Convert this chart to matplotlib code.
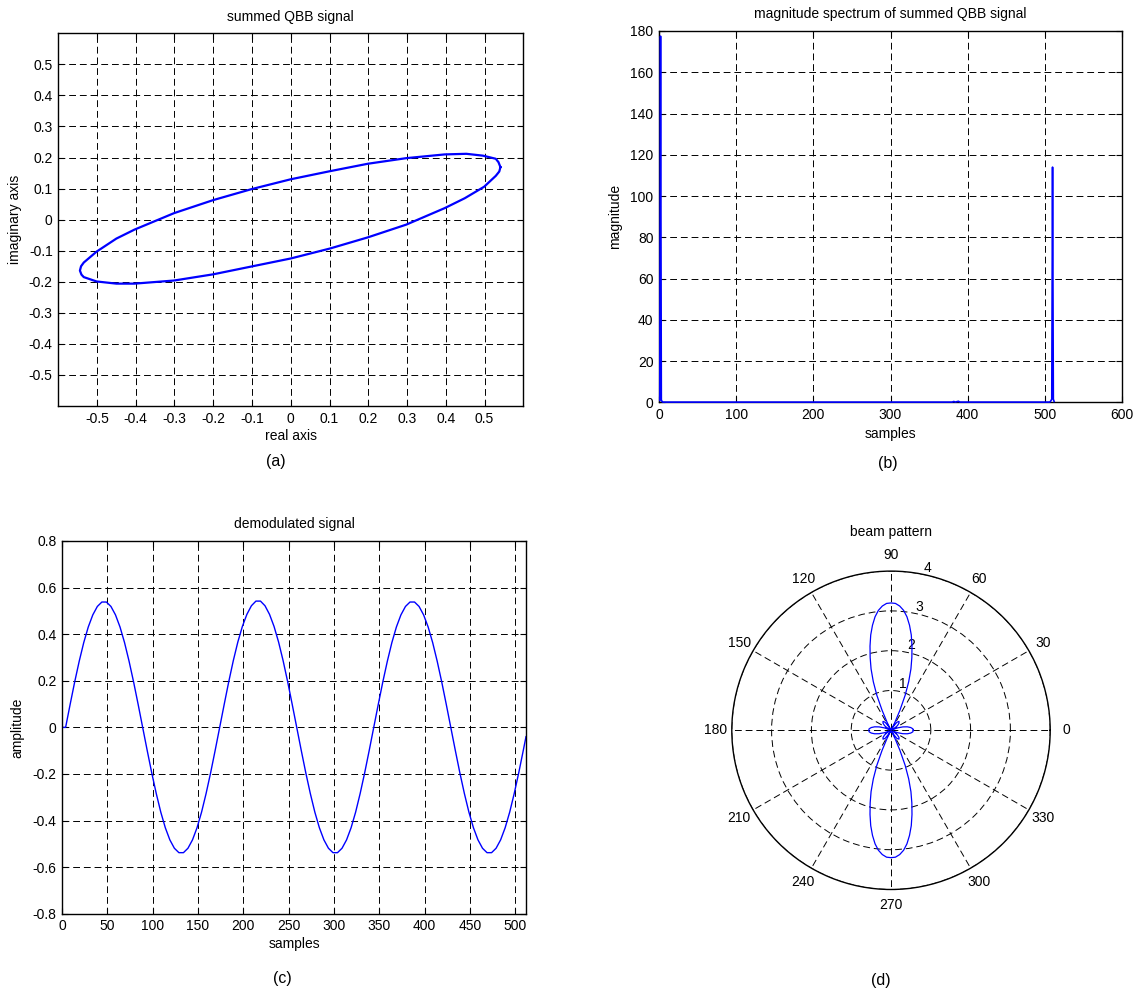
import matplotlib
matplotlib.use("Agg")
import matplotlib.pyplot as plt
import numpy as np

plt.rcParams['font.family'] = ['Liberation Sans', 'DejaVu Sans']
plt.rcParams['font.size'] = 10
plt.rcParams['axes.unicode_minus'] = False

# (a) summed QBB signal, points read along the ellipse
qbb_re = [0.541, 0.536, 0.529, 0.496, 0.453, 0.397, 0.298, 0.199, 0.101, 0.000,
          -0.102, -0.200, -0.301, -0.403, -0.450, -0.501, -0.534, -0.541, -0.544, -0.540,
          -0.534, -0.501, -0.450, -0.403, -0.301, -0.200, -0.102, 0.000, 0.101, 0.199,
          0.298, 0.397, 0.449, 0.499, 0.529, 0.538, 0.541]
qbb_im = [0.169, 0.185, 0.196, 0.206, 0.212, 0.210, 0.198, 0.180, 0.156, 0.130,
          0.098, 0.063, 0.021, -0.032, -0.061, -0.103, -0.138, -0.150, -0.164, -0.177,
          -0.185, -0.199, -0.206, -0.206, -0.196, -0.176, -0.151, -0.125, -0.093, -0.057,
          -0.016, 0.037, 0.069, 0.106, 0.141, 0.155, 0.169]
qbb_ticks = [-0.5, -0.4, -0.3, -0.2, -0.1, 0, 0.1, 0.2, 0.3, 0.4, 0.5]
qbb_ticklabels = ['-0.5', '-0.4', '-0.3', '-0.2', '-0.1', '0', '0.1', '0.2', '0.3', '0.4', '0.5']

# (b) magnitude spectrum
spec_n = [1, 2, 3, 4, 5, 380, 382, 384, 386, 388, 390, 506, 507, 508, 509, 510, 511, 512]
spec_mag = [0.9, 177.5, 1.2, 0.3, 0.1, 0.1, 0.4, 0.1, 0.3, 0.5, 0.1, 0.1, 0.3, 0.8, 1.6, 114.0, 1.5, 0.4]

# (c) demodulated signal
demod_n = [0] + list(range(4, 510, 5)) + [512]
demod_amp = [
    0.000,
    0.000, 0.099, 0.195, 0.284, 0.364, 0.431, 0.483, 0.519, 0.538, 0.538, 0.519, 0.483, 0.431, 0.364, 0.284, 0.195, 0.099,
    0.000, -0.099, -0.195, -0.284, -0.364, -0.431, -0.483, -0.519, -0.538, -0.538, -0.519, -0.483, -0.431, -0.364, -0.284, -0.195, -0.099,
    0.000, 0.099, 0.196, 0.286, 0.366, 0.433, 0.485, 0.522, 0.542, 0.542, 0.522, 0.485, 0.433, 0.366, 0.286, 0.196, 0.099,
    0.000, -0.099, -0.195, -0.284, -0.364, -0.431, -0.483, -0.519, -0.538, -0.538, -0.519, -0.483, -0.431, -0.364, -0.284, -0.195, -0.099,
    0.000, 0.099, 0.195, 0.284, 0.364, 0.431, 0.483, 0.519, 0.538, 0.538, 0.519, 0.483, 0.431, 0.364, 0.284, 0.195, 0.099,
    0.000, -0.099, -0.195, -0.284, -0.364, -0.431, -0.483, -0.519, -0.538, -0.538, -0.519, -0.483, -0.431, -0.364, -0.284, -0.195, -0.099,
    -0.040]

# (d) beam pattern, first quadrant (pattern is symmetric about both axes)
bp_theta_q = [0, 4, 8, 12, 16, 20, 24, 30, 36, 42, 48, 54, 58, 62, 64, 66, 68, 70,
              72, 74, 76, 78, 80, 82, 84, 86, 88, 90]
bp_r_q = [0.56, 0.55, 0.50, 0.42, 0.31, 0.18, 0.05, 0.10, 0.20, 0.27, 0.30, 0.25, 0.12, 0.02,
          0.23, 0.55, 0.95, 1.30, 1.62, 1.90, 2.18, 2.45, 2.68, 2.88, 3.03, 3.13, 3.19, 3.20]
bp_theta = (bp_theta_q + [180 - t for t in bp_theta_q[::-1]]
            + [180 + t for t in bp_theta_q] + [360 - t for t in bp_theta_q[::-1]])
bp_r = bp_r_q + bp_r_q[::-1] + bp_r_q + bp_r_q[::-1]

W, H = 1139, 991


def box(l, t, r, b):
    return [l / W, 1 - b / H, (r - l) / W, (b - t) / H]


def style(ax):
    ax.tick_params(direction='in', length=4, top=True, right=True, labelsize=10, pad=4)
    for s in ax.spines.values():
        s.set_linewidth(1.0)
    ax.grid(True, color='black', linestyle=(0, (7, 4)), linewidth=0.7)


fig = plt.figure(figsize=(W / 100, H / 100), dpi=100)
blue = (0, 0, 1)

# (a)
ax = fig.add_axes(box(58.2, 33.3, 523.3, 406))
ax.plot(qbb_re, qbb_im, color=blue, lw=1.6)
ax.set_xlim(-0.6, 0.6)
ax.set_ylim(-0.6, 0.6)
ax.set_xticks(qbb_ticks, qbb_ticklabels)
ax.set_yticks(qbb_ticks, qbb_ticklabels)
style(ax)
ax.set_title('summed QBB signal', pad=9, fontsize=10)
ax.set_xlabel('real axis')
ax.set_ylabel('imaginary axis')
ax.xaxis.set_label_coords(0.5, -0.062)
ax.yaxis.set_label_coords(-0.077, 0.5)

# (b)
ax = fig.add_axes(box(659, 31, 1122, 402.3))
ax.plot(spec_n, spec_mag, color=blue, lw=1.2, clip_on=False, zorder=3)
ax.set_xlim(0, 600)
ax.set_ylim(0, 180)
ax.set_xticks(range(0, 601, 100))
ax.set_yticks(range(0, 181, 20))
style(ax)
ax.set_title('magnitude spectrum of summed QBB signal', pad=9.5, fontsize=10)
ax.set_xlabel('samples')
ax.set_ylabel('magnitude')
ax.xaxis.set_label_coords(0.5, -0.066)
ax.yaxis.set_label_coords(-0.079, 0.5)

# (c)
ax = fig.add_axes(box(62, 541, 526, 913.7))
ax.plot(demod_n, demod_amp, color=blue, lw=1.0)
ax.set_xlim(0, 512)
ax.set_ylim(-0.8, 0.8)
ax.set_xticks(range(0, 501, 50))
amp_ticks = [-0.8, -0.6, -0.4, -0.2, 0, 0.2, 0.4, 0.6, 0.8]
ax.set_yticks(amp_ticks, ['-0.8', '-0.6', '-0.4', '-0.2', '0', '0.2', '0.4', '0.6', '0.8'])
style(ax)
ax.set_title('demodulated signal', pad=9.5, fontsize=10)
ax.set_xlabel('samples')
ax.set_ylabel('amplitude')
ax.xaxis.set_label_coords(0.5, -0.0625)
ax.yaxis.set_label_coords(-0.0815, 0.5)

# (d)
axp = fig.add_axes(box(731.8, 571.1, 1050.2, 889.5), projection='polar')
axp.plot(np.deg2rad(bp_theta), bp_r, color=blue, lw=0.9)
axp.set_rlim(0, 4)
axp.set_rgrids([1, 2, 3, 4], labels=['1', '2', '3', '4'], angle=78)
axp.set_thetagrids(range(0, 360, 30), labels=[str(a) for a in range(0, 360, 30)])
axp.grid(True, color='black', linestyle=(0, (7, 4)), linewidth=0.7)
axp.spines['polar'].set_linewidth(1.0)
axp.tick_params(axis='x', pad=1, labelsize=10)
axp.tick_params(axis='y', labelsize=10)
axp.set_title('beam pattern', y=1 + 35 / 318.4, pad=0, fontsize=10)

fig.text(275.8 / W, 1 - 461.7 / H, '(a)', ha='center', va='center', fontsize=11.5)
fig.text(887.7 / W, 1 - 463.5 / H, '(b)', ha='center', va='center', fontsize=11.5)
fig.text(282.7 / W, 1 - 979 / H, '(c)', ha='center', va='center', fontsize=11.5)
fig.text(881 / W, 1 - 980 / H, '(d)', ha='center', va='center', fontsize=11.5)

fig.savefig('out.png', dpi=100)
